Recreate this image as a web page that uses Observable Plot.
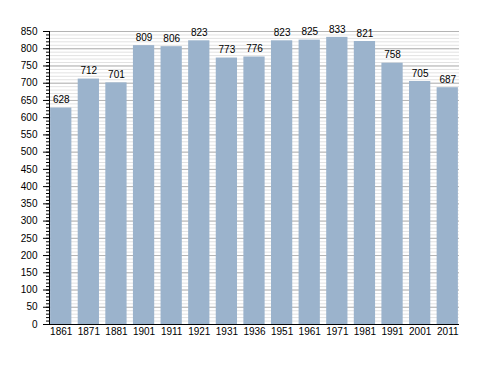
<!DOCTYPE html>
<html>
<head>
<meta charset="utf-8">
<script src="https://cdn.jsdelivr.net/npm/d3@7"></script>
<script src="https://cdn.jsdelivr.net/npm/@observablehq/plot@0.6"></script>
<style>
  body { margin: 0; background: #fff; }
  #chart svg { display: block; }
</style>
</head>
<body>
<div id="chart"></div>
<script>
const years = ["1861","1871","1881","1901","1911","1921","1931","1936","1951","1961","1971","1981","1991","2001","2011"];
const population = [628, 712, 701, 809, 806, 823, 773, 776, 823, 825, 833, 821, 758, 705, 687];
const yMajorTicks = [0,50,100,150,200,250,300,350,400,450,500,550,600,650,700,750,800,850];
const yMinorTicks = d3.range(0, 851, 10);

const data = years.map((year, i) => ({year, pop: population[i]}));

const chart = Plot.plot({
  width: 488,
  height: 373,
  marginTop: 31,
  marginBottom: 49,
  marginLeft: 49,
  marginRight: 29,
  style: {fontFamily: "'Liberation Sans', Arial, sans-serif", fontSize: "10px", color: "#000", background: "#fff"},
  x: {domain: years, paddingInner: 0.23, paddingOuter: 0.04, round: false, label: null},
  y: {domain: [0, 850], label: null},
  marks: [
    Plot.ruleY(yMinorTicks, {stroke: "#e2e2e2", strokeWidth: 1}),
    Plot.ruleY(yMajorTicks, {stroke: "#b4b4b4", strokeWidth: 1}),
    Plot.barY(data, {x: "year", y: "pop", fill: "#9bb3cc"}),
    Plot.text(data, {x: "year", y: "pop", text: d => String(d.pop), dy: -8, fontSize: 10, fill: "#000"}),
    Plot.axisY({ticks: yMinorTicks, tickSize: 3, text: null, label: null, strokeOpacity: 1}),
    Plot.axisY({ticks: yMajorTicks, tickSize: 6, tickPadding: 6, label: null, fontSize: 10, strokeOpacity: 1}),
    Plot.axisX({tickSize: 0, tickPadding: 3, label: null, fontSize: 10}),
    Plot.ruleY([0], {stroke: "#000"}),
    Plot.frame({anchor: "left", stroke: "#000"})
  ]
});
document.getElementById("chart").appendChild(chart);
</script>
</body>
</html>
